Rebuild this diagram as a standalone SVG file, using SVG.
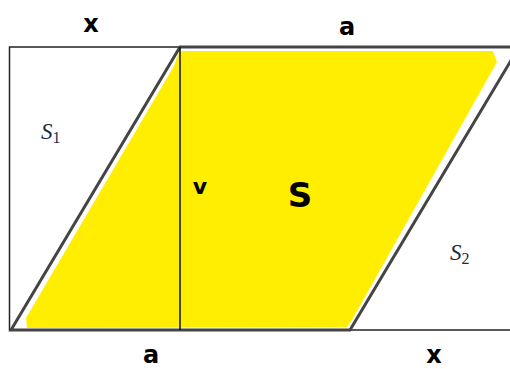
<svg xmlns="http://www.w3.org/2000/svg" width="510" height="369" viewBox="0 0 510 369">
<style>
.lbl{font-family:"DejaVu Sans","Liberation Sans",sans-serif;font-weight:bold;fill:#000}
.math{font-family:"Liberation Serif","DejaVu Serif",serif;font-style:italic;fill:#1a2a40}
.rect{fill:none;stroke:#222;stroke-width:1.5}
.para{fill:none;stroke:#444;stroke-width:3;stroke-linejoin:miter}
</style>
<rect width="510" height="369" fill="#fff"/>
<g id="fill">
<polygon points="182,51 493,51 497,62 352,320 347,327 27,328 26,318 174,66 178,54" fill="#ffee00"/>
</g>
<g id="shapes">
<rect class="rect" x="9.5" y="47" width="520" height="283"/>
<polygon class="para" points="11,330 180,47 519,47 350,330"/>
<line x1="180" y1="47" x2="180" y2="330" stroke="#111" stroke-width="1.5"/>
</g>
<g id="labels">
<text class="lbl" x="91" y="32" font-size="24" text-anchor="middle">x</text>
<text class="lbl" x="347" y="35" font-size="24" text-anchor="middle">a</text>
<text class="math" x="41" y="139" font-size="23">S<tspan font-size="16" font-style="normal" dy="4">1</tspan></text>
<text class="lbl" x="200" y="194" font-size="22" text-anchor="middle">v</text>
<text class="lbl" x="300" y="207" font-size="34" text-anchor="middle">S</text>
<text class="math" x="450" y="260" font-size="23">S<tspan font-size="16" font-style="normal" dy="4">2</tspan></text>
<text class="lbl" x="151" y="363" font-size="24" text-anchor="middle">a</text>
<text class="lbl" x="434" y="363" font-size="24" text-anchor="middle">x</text>
</g>
</svg>
